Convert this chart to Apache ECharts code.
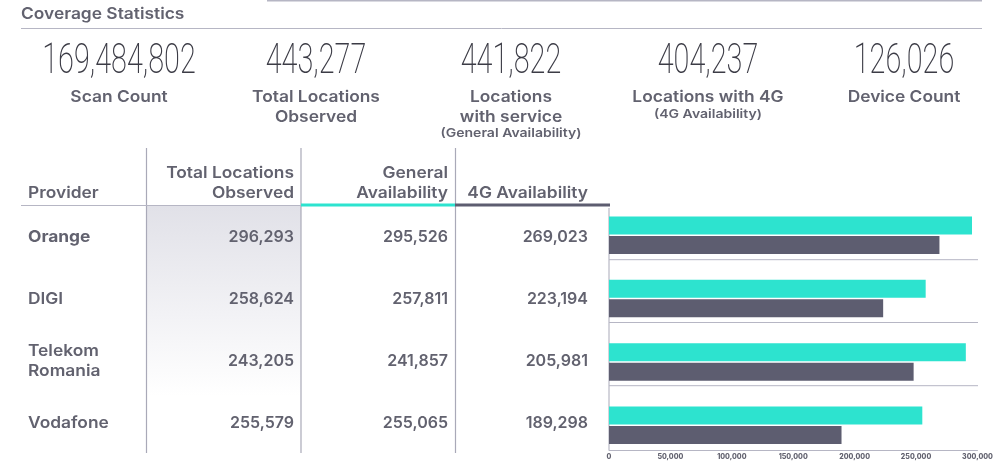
<!DOCTYPE html>
<html>
<head>
<meta charset="utf-8">
<style>
    html, body { margin: 0; background: #fff; }
    #chart { width: 1004px; height: 467px; }
</style>
<script src="https://cdn.jsdelivr.net/npm/echarts@6/dist/echarts.min.js"></script>
</head>
<body>
<div id="chart"></div>
<script>
const statValues = ['169,484,802', '443,277', '441,822', '404,237', '126,026'];
const statLabels = [['Scan Count'], ['Total Locations', 'Observed'], ['Locations', 'with service'], ['Locations with 4G'], ['Device Count']];
const statNotes = ['', '', '(General Availability)', '(4G Availability)', ''];

const providers = ['Orange', 'DIGI', 'Telekom\nRomania', 'Vodafone'];
const totalLocations = ['296,293', '258,624', '243,205', '255,579'];
const generalAvailability = ['295,526', '257,811', '241,857', '255,065'];
const fourGAvailability = ['269,023', '223,194', '205,981', '189,298'];

// bar lengths as drawn, Telekom Romania's bars do not follow its table row
const generalBars = [295526, 257811, 290500, 255065];
const fourGBars = [269023, 223194, 248000, 189298];

const TEXT = '#62626f';
const RULE = '#b6b6c4';
const COLUMN_RULE = '#a9a9b8';
const TEAL = '#2de3cf';
const DARK = '#5d5d70';
const FONT = 'Inter, "Open Sans", sans-serif';
// Inter runs narrower than the original's geometric face
const WIDEN = 1.085;

function label(text, x, y, size, align, weight, stretch) {
    return {
        type: 'text',
        x: x,
        y: y,
        scaleX: stretch || WIDEN,
        style: {
            text: text,
            fill: TEXT,
            font: (weight || 600) + ' ' + size + 'px ' + FONT,
            align: align || 'left',
            verticalAlign: 'middle',
            lineHeight: 20
        }
    };
}

function rule(x1, y1, x2, y2, color, width) {
    return {
        type: 'line',
        shape: {x1: x1, y1: y1, x2: x2, y2: y2},
        style: {stroke: color || RULE, lineWidth: width || 1}
    };
}

function buildGraphic() {
    const items = [
        // shaded column goes underneath everything else
        {
            type: 'rect',
            shape: {x: 147, y: 206, width: 154, height: 190},
            style: {
                fill: new echarts.graphic.LinearGradient(0, 0, 0, 1, [
                    {offset: 0, color: '#e1e1e8'},
                    {offset: 1, color: '#ffffff'}
                ])
            }
        },
        rule(267, 0.5, 982, 0.5, RULE, 2),
        rule(21, 28.5, 982, 28.5),
        label('Coverage Statistics', 21, 14, 16),
        rule(146.5, 148, 146.5, 453, COLUMN_RULE, 1.2),
        rule(301, 148, 301, 453, COLUMN_RULE, 1.2),
        rule(455.5, 148, 455.5, 453, COLUMN_RULE, 1.2),
        rule(21, 205.5, 301, 205.5),
        rule(301, 205, 455, 205, TEAL, 3),
        rule(455, 205, 610, 205, DARK, 3),
        label('Provider', 28, 193, 16),
        label('Total Locations\nObserved', 294, 183, 16, 'right'),
        label('General\nAvailability', 448, 183, 16, 'right'),
        label('4G Availability', 588, 193, 16, 'right'),
        rule(609, 208, 609, 450, COLUMN_RULE),
        rule(609, 259.7, 978, 259.7),
        rule(609, 322.5, 978, 322.5),
        rule(609, 385.7, 978, 385.7)
    ];

    const statCenters = [119, 316, 511, 708, 904];
    statValues.forEach((value, i) => {
        items.push({
            type: 'text',
            x: statCenters[i],
            y: 62,
            scaleX: 0.67,
            style: {
                text: value,
                fill: '#3c3c46',
                font: '200 43px Roboto, sans-serif',
                align: 'center',
                verticalAlign: 'middle'
            }
        });
        items.push(label(statLabels[i].join('\n'), statCenters[i], 97 + (statLabels[i].length - 1) * 10, 16, 'center'));
    });
    items.push(label(statNotes[2], statCenters[2], 133, 12, 'center', 600, 1.17));
    items.push(label(statNotes[3], statCenters[3], 114, 12, 'center', 600, 1.17));

    const rowCenters = [237, 299, 361, 423];
    providers.forEach((name, i) => {
        items.push(label(name, 28, rowCenters[i], 16, 'left', i === 0 ? 700 : 600));
        items.push(label(totalLocations[i], 294, rowCenters[i], 16, 'right', 600, 1));
        items.push(label(generalAvailability[i], 448, rowCenters[i], 16, 'right', 600, 1));
        items.push(label(fourGAvailability[i], 588, rowCenters[i], 16, 'right', 600, 1));
    });
    return items;
}

const chart = echarts.init(document.getElementById('chart'), null, {renderer: 'canvas'});

chart.setOption({
    animation: false,
    grid: {left: 609, right: 26.5, top: 203.5, bottom: 10},
    xAxis: {
        type: 'value',
        min: 0,
        max: 300000,
        interval: 50000,
        offset: -7,
        axisLine: {show: true, lineStyle: {color: RULE, width: 1}},
        axisTick: {show: false},
        splitLine: {show: false},
        axisLabel: {
            color: TEXT,
            fontFamily: 'Inter, sans-serif',
            fontWeight: 800,
            fontSize: 7,
            margin: 3,
            formatter: (value) => value.toLocaleString('en-US')
        }
    },
    yAxis: {
        type: 'category',
        inverse: true,
        data: providers,
        axisLine: {show: false},
        axisTick: {show: false},
        axisLabel: {show: false},
        splitLine: {show: false}
    },
    series: [
        {
            type: 'bar',
            name: 'General Availability',
            data: generalBars,
            barWidth: 18,
            barGap: '8%',
            itemStyle: {color: TEAL}
        },
        {
            type: 'bar',
            name: '4G Availability',
            data: fourGBars,
            barWidth: 18,
            itemStyle: {color: DARK}
        }
    ],
    graphic: buildGraphic()
});
</script>
</body>
</html>
